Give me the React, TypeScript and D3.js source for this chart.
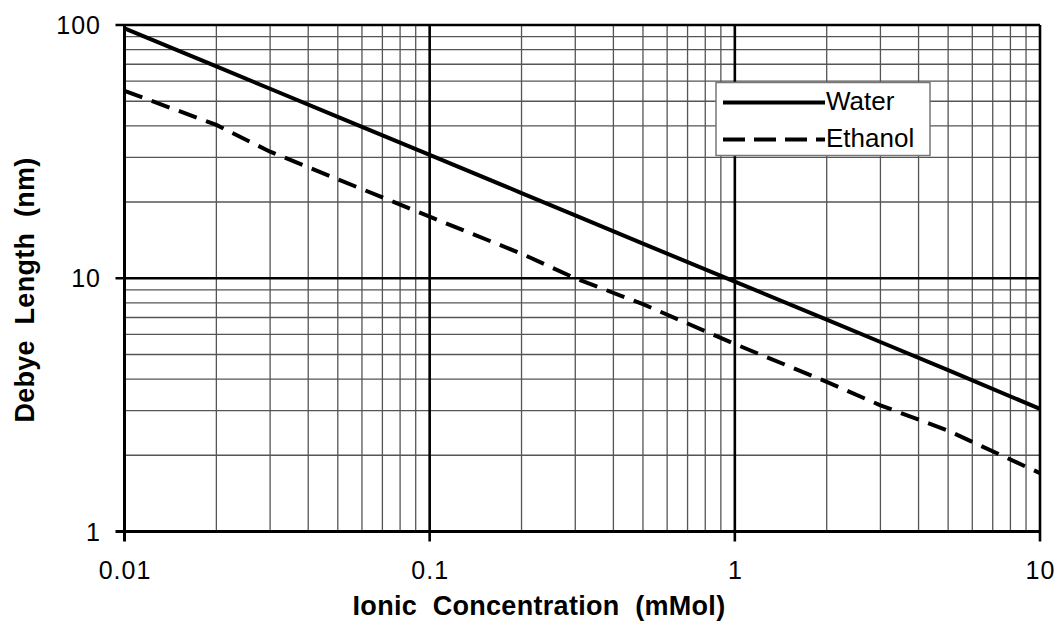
import React from "react";
import * as d3 from "d3";

const concentration = [0.01, 0.02, 0.03, 0.05, 0.1, 0.2, 0.3, 0.5, 1, 2, 3, 5, 10];
const waterDebye = [97, 68.6, 56, 43.4, 30.7, 21.7, 17.7, 13.7, 9.7, 6.86, 5.6, 4.34, 3.05];
const ethanolDebye = [55, 40.3, 31.6, 24.6, 17.5, 12.5, 10, 7.9, 5.5, 3.9, 3.15, 2.5, 1.7];
const xTicks = [0.01, 0.1, 1, 10];
const xTickLabels = ["0.01", "0.1", "1", "10"];
const yTicks = [1, 10, 100];
const yTickLabels = ["1", "10", "100"];
const seriesNames = ["Water", "Ethanol"];

export default function App() {
  const W = 1057, H = 630;
  const left = 124.5, right = 1040, top = 25, bottom = 531.5;
  const x = d3.scaleLog().domain([0.01, 10]).range([left, right]);
  const y = d3.scaleLog().domain([1, 100]).range([bottom, top]);

  const minorX: number[] = [];
  [0.01, 0.1, 1].forEach((d) => {
    for (let k = 2; k <= 9; k++) minorX.push(d * k);
  });
  const minorY: number[] = [];
  [1, 10].forEach((d) => {
    for (let k = 2; k <= 9; k++) minorY.push(d * k);
  });

  const line = d3
    .line<[number, number]>()
    .x((d) => x(d[0]))
    .y((d) => y(d[1]));
  const waterPts = concentration.map((c, i) => [c, waterDebye[i]] as [number, number]);
  const ethPts = concentration.map((c, i) => [c, ethanolDebye[i]] as [number, number]);

  const font = "'Liberation Sans', Arial, Helvetica, sans-serif";
  const lg = { x: 716, y: 82.5, w: 214, h: 73 };

  return (
    <svg
      width={W}
      height={H}
      style={{ position: "absolute", left: 0, top: 0, background: "#fff" }}
      fontFamily={font}
    >
      <rect x={0} y={0} width={W} height={H} fill="#fff" />
      {/* minor grid */}
      {minorX.map((v, i) => (
        <line key={"mx" + i} x1={x(v)} x2={x(v)} y1={top} y2={bottom} stroke="#555" strokeWidth={1.3} />
      ))}
      {minorY.map((v, i) => (
        <line key={"my" + i} x1={left} x2={right} y1={y(v)} y2={y(v)} stroke="#555" strokeWidth={1.3} />
      ))}
      {/* major grid */}
      {xTicks.slice(1).map((v, i) => (
        <line key={"Mx" + i} x1={x(v)} x2={x(v)} y1={top} y2={bottom + 10} stroke="#000" strokeWidth={2.6} />
      ))}
      {yTicks.slice(1).map((v, i) => (
        <line key={"My" + i} x1={left - 9} x2={right} y1={y(v)} y2={y(v)} stroke="#000" strokeWidth={2.6} />
      ))}
      {/* axes */}
      <line x1={left} x2={left} y1={top} y2={bottom + 10} stroke="#000" strokeWidth={3} />
      <line x1={left - 9} x2={right} y1={bottom} y2={bottom} stroke="#000" strokeWidth={3} />

      {/* series */}
      <path d={line(waterPts) || ""} fill="none" stroke="#000" strokeWidth={4} />
      <path d={line(ethPts) || ""} fill="none" stroke="#000" strokeWidth={4} strokeDasharray="19,10" />

      {/* tick labels */}
      {xTicks.map((v, i) => (
        <text key={"xt" + i} x={x(v) + 0.5} y={579} textAnchor="middle" fontSize={25} letterSpacing={1} fill="#000">
          {xTickLabels[i]}
        </text>
      ))}
      {yTicks.map((v, i) => (
        <text key={"yt" + i} x={101} y={y(v) + 9} textAnchor="end" fontSize={25} letterSpacing={1} fill="#000">
          {yTickLabels[i]}
        </text>
      ))}

      {/* axis titles */}
      <text x={539} y={615} textAnchor="middle" fontSize={27} fontWeight="bold" letterSpacing={0.3} fill="#000" style={{ whiteSpace: "pre" }}>
        {"Ionic  Concentration  (mMol)"}
      </text>
      <text
        transform={`translate(33.5, 290) rotate(-90)`}
        textAnchor="middle"
        fontSize={27}
        fontWeight="bold"
        letterSpacing={0.3}
        fill="#000"
        style={{ whiteSpace: "pre" }}
      >
        {"Debye  Length  (nm)"}
      </text>

      {/* legend */}
      <rect x={lg.x} y={lg.y} width={lg.w} height={lg.h} fill="#fff" stroke="#777" strokeWidth={1.5} />
      <line x1={723} x2={825} y1={102.5} y2={102.5} stroke="#000" strokeWidth={4} />
      <line x1={723} x2={825} y1={139.5} y2={139.5} stroke="#000" strokeWidth={4} strokeDasharray="22,9" />
      <text x={826} y={109.5} fontSize={26} fill="#000">{seriesNames[0]}</text>
      <text x={826} y={147} fontSize={26} fill="#000">{seriesNames[1]}</text>
    </svg>
  );
}
